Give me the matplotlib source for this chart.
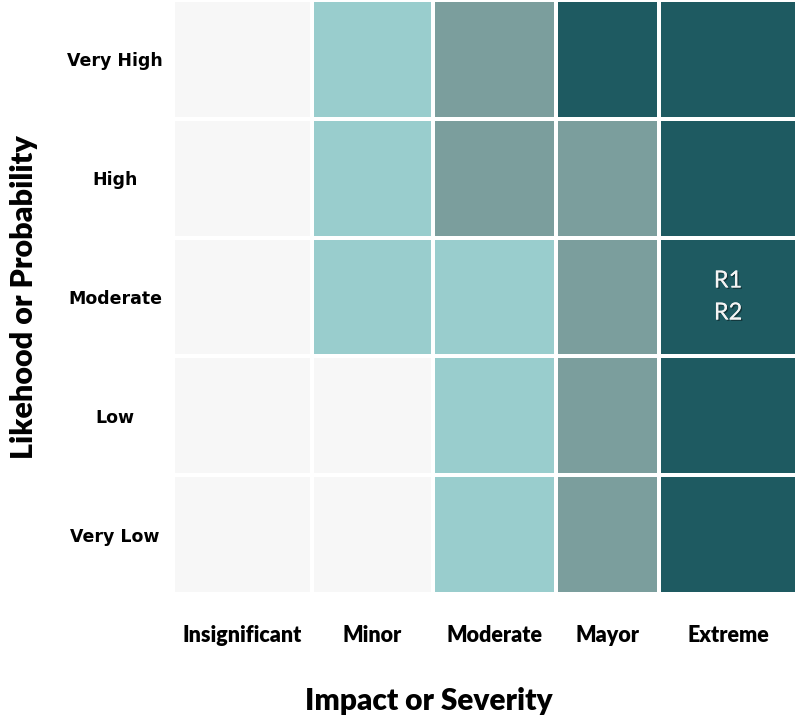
import numpy as np
import matplotlib
matplotlib.use("Agg")
import matplotlib.pyplot as plt
from matplotlib.colors import ListedColormap, BoundaryNorm
import matplotlib.patheffects as pe
from collections import defaultdict

impact = ["Insignificant", "Minor", "Moderate", "Mayor", "Extreme"]
likelihood = ["Very High", "High", "Moderate", "Low", "Very Low"]  # top to bottom
levels = [
    [0, 1, 2, 3, 3],
    [0, 1, 2, 2, 3],
    [0, 1, 1, 2, 3],
    [0, 0, 1, 2, 3],
    [0, 0, 1, 2, 3],
]
risks = ["R1", "R2"]
risk_likelihood = ["Moderate", "Moderate"]
risk_impact = ["Extreme", "Extreme"]

# layout (column widths as drawn in the reference)
col_widths = [139, 121, 123, 103, 138]
colors = ["#F7F7F7", "#99CDCD", "#7B9E9D", "#1E5A61"]

plt.rcParams['font.family'] = ['Lato', 'DejaVu Sans']

fig = plt.figure(figsize=(8, 7.17), dpi=100)
ax = fig.add_axes([173/800, 1-594/717, 624/800, 594/717])

xedges = np.concatenate([[0], np.cumsum(col_widths)]).astype(float)
yedges = np.arange(len(likelihood) + 1)
cmap = ListedColormap(colors)
norm = BoundaryNorm(np.arange(-0.5, len(colors) + 0.5), cmap.N)
ax.pcolormesh(xedges, yedges, np.array(levels), cmap=cmap, norm=norm,
              edgecolors="white", linewidth=1.6)
ax.set_xlim(xedges[0], xedges[-1])
ax.set_ylim(len(likelihood), 0)

xc = (xedges[:-1] + xedges[1:]) / 2
yc = np.arange(len(likelihood)) + 0.5
ax.set_xticks(xc)
ax.set_xticklabels(impact, fontsize=15.5, fontweight="heavy")
ax.set_yticks([])
for y, lab in zip(yc, likelihood):
    fig.text(115/800, 1 - (y * 594/5 + 2)/717, lab, ha="center", va="center",
             fontsize=12.5, fontweight="bold", family=["DejaVu Sans"])
ax.tick_params(axis="x", length=0, pad=22)
for s in ax.spines.values():
    s.set_visible(False)

# risk labels
groups = defaultdict(list)
for r, l, i in zip(risks, risk_likelihood, risk_impact):
    groups[(l, i)].append(r)
for (l, i), names in groups.items():
    ax.text(xc[impact.index(i)], yc[likelihood.index(l)], "\n".join(names),
            ha="center", va="center", color="#F4F4F4", fontsize=17,
            linespacing=1.65,
            path_effects=[pe.withSimplePatchShadow(offset=(1, -1), shadow_rgbFace="black", alpha=0.4), pe.Normal()])

fig.text(429/800, 1 - 701/717, "Impact or Severity", ha="center", va="center",
         fontsize=21.5, fontweight="heavy")
fig.text(24/800, 1 - 297/717, "Likehood or Probability", ha="center", va="center",
         rotation=90, fontsize=22, fontweight="heavy")

fig.savefig("out.png", dpi=100, facecolor="white")
